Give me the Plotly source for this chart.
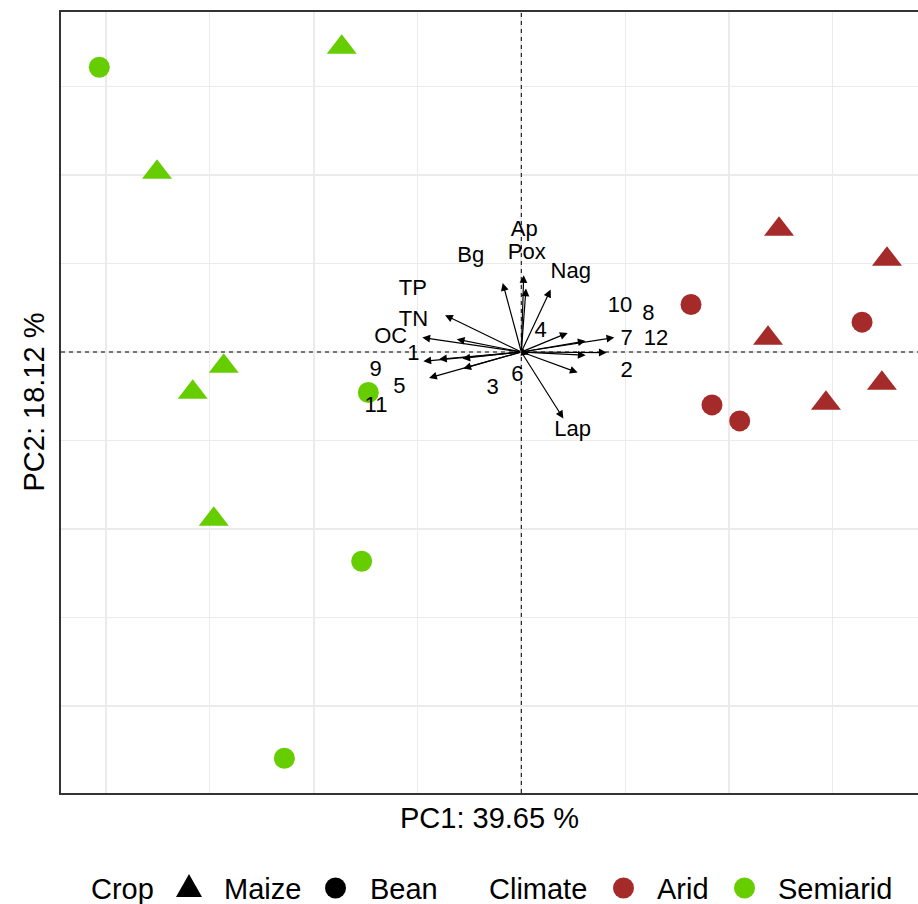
import plotly.graph_objects as go

# ---------------- data ----------------
pc1 = [-4.066, -1.730, -3.510, -2.867, -3.166, -1.474, -2.963, -1.538, -2.283,
       2.483, 3.523, 1.635, 3.283, 2.377, 3.474, 2.935, 1.837, 2.104]
pc2 = [3.218, 3.444, 2.032, -0.160, -0.454, -0.458, -1.889, -2.364, -4.590,
       1.388, 1.049, 0.537, 0.337, 0.156, -0.353, -0.579, -0.598, -0.779]
crop = ['Bean', 'Maize', 'Maize', 'Maize', 'Maize', 'Bean', 'Maize', 'Bean', 'Bean',
        'Maize', 'Maize', 'Bean', 'Bean', 'Maize', 'Maize', 'Maize', 'Bean', 'Bean']
climate = ['Semiarid'] * 9 + ['Arid'] * 9

var_names = ['Ap', 'Pox', 'Bg', 'Nag', 'TP', 'TN', 'OC', '1', '9', '5', '11', '3', '6',
             '4', '10', '8', '7', '12', '2', 'Lap']
load_x = [0.023, 0.045, -0.179, 0.283, -0.735, -0.622, -0.954, -0.944, -0.793, -0.889,
          -0.568, -0.559, 0.074, 0.447, 0.620, 0.620, 0.896, 0.823, 0.543, 0.405]
load_y = [0.868, 0.718, 0.781, 0.706, 0.416, 0.145, 0.164, -0.104, -0.081, -0.293,
          -0.073, -0.186, -0.025, 0.216, 0.125, -0.036, 0.164, -0.006, -0.232, -0.751]
label_x = [0.029, 0.052, -0.487, 0.476, -1.046, -1.040, -1.258, -1.040, -1.403, -1.175,
           -1.400, -0.276, -0.038, 0.187, 0.950, 1.223, 1.015, 1.298, 1.015, 0.495]
label_y = [1.376, 1.112, 1.082, 0.894, 0.706, 0.351, 0.164, -0.029, -0.206, -0.406,
           -0.620, -0.412, -0.262, 0.228, 0.517, 0.427, 0.145, 0.145, -0.225, -0.885]

crop_levels = ['Maize', 'Bean']
climate_levels = ['Arid', 'Semiarid']
x_title = 'PC1: 39.65 %'
y_title = 'PC2: 18.12 %'
x_range = [-4.435, 3.822]
y_range = [-4.983, 3.842]

# ---------------- styles ----------------
FONT = 'Liberation Sans, Arial, sans-serif'
colors = {'Arid': '#A52A2A', 'Semiarid': '#66CD00'}
symbols = {'Maize': 'triangle-up', 'Bean': 'circle'}
sizes = {'Maize': 26, 'Bean': 21}

W, H = 918, 904
ML, MR, MT, MB = 61, 0, 12, 111
PW, PH = W - ML - MR, H - MT - MB


def px2paper_x(px):
    return (px - ML) / PW


def py2paper_y(py):
    return (H - MB - py) / PH


fig = go.Figure()

# dashed reference lines through the origin
dash_line = dict(color='black', width=1, dash='4px,4px')
fig.add_trace(go.Scatter(x=[0, 0], y=y_range, mode='lines', line=dash_line,
                         showlegend=False, hoverinfo='skip'))
fig.add_trace(go.Scatter(x=x_range, y=[0, 0], mode='lines', line=dash_line,
                         showlegend=False, hoverinfo='skip'))

for cl in climate_levels:
    for cr in crop_levels:
        xs = [x for x, c, k in zip(pc1, crop, climate) if c == cr and k == cl]
        ys = [y for y, c, k in zip(pc2, crop, climate) if c == cr and k == cl]
        fig.add_trace(go.Scatter(
            x=xs, y=ys, mode='markers', showlegend=False,
            marker=dict(symbol=symbols[cr], size=sizes[cr], color=colors[cl],
                        line=dict(width=0)),
            hoverinfo='skip'))

# arrows (loadings)
for vx, vy in zip(load_x, load_y):
    fig.add_annotation(x=vx, y=vy, ax=0, ay=0, xref='x', yref='y', axref='x', ayref='y',
                       text='', showarrow=True, arrowhead=2, arrowsize=1.3,
                       arrowwidth=1.2, arrowcolor='black', standoff=0, startstandoff=0)

# variable labels
fig.add_trace(go.Scatter(
    x=label_x, y=label_y, mode='text', text=var_names, showlegend=False,
    textposition='middle center', textfont=dict(family=FONT, size=22, color='black'),
    hoverinfo='skip'))

# axis titles
fig.add_annotation(text=x_title, xref='paper', yref='paper', x=0.5, y=0,
                   xanchor='center', yanchor='middle', yshift=-25, showarrow=False,
                   font=dict(family=FONT, size=29, color='black'))
fig.add_annotation(text=y_title, xref='paper', yref='paper', x=0, y=0.5,
                   xanchor='center', yanchor='middle', xshift=-28, textangle=-90,
                   showarrow=False, font=dict(family=FONT, size=29, color='black'))

# legend (manual)
leg_y = 889
leg_texts = [('Crop', 89), ('Maize', 222), ('Bean', 368),
             ('Climate', 487), ('Arid', 655), ('Semiarid', 776)]
for t, px in leg_texts:
    fig.add_annotation(text=t, xref='paper', yref='paper', x=px2paper_x(px),
                       y=py2paper_y(leg_y), xanchor='left', yanchor='middle',
                       showarrow=False, font=dict(family=FONT, size=29, color='black'))

# triangle key
tx, tw, ttop, tbot = 189, 26, 874, 897
path = 'M {},{} L {},{} L {},{} Z'.format(
    px2paper_x(tx - tw / 2), py2paper_y(tbot), px2paper_x(tx + tw / 2), py2paper_y(tbot),
    px2paper_x(tx), py2paper_y(ttop))
fig.add_shape(type='path', xref='paper', yref='paper', path=path,
              fillcolor='black', line=dict(width=0))
# circle keys
for cx, col in [(335.5, 'black'), (623.5, colors['Arid']), (744.5, colors['Semiarid'])]:
    r = 10.5
    fig.add_shape(type='circle', xref='paper', yref='paper',
                  x0=px2paper_x(cx - r), x1=px2paper_x(cx + r),
                  y0=py2paper_y(leg_y + r - 1), y1=py2paper_y(leg_y - r - 1),
                  fillcolor=col, line=dict(width=0))

grid_major = dict(showgrid=True, gridcolor='#EBEBEB', gridwidth=1.7)
fig.update_layout(
    width=W, height=H, margin=dict(l=ML, r=MR, t=MT, b=MB, pad=0),
    paper_bgcolor='white', plot_bgcolor='white', showlegend=False,
    font=dict(family=FONT, color='black'),
    xaxis=dict(range=x_range, dtick=2, tick0=0, **grid_major,
               minor=dict(dtick=1, tick0=0, showgrid=True, gridcolor='#EBEBEB', gridwidth=1),
               showticklabels=False, ticks='', zeroline=False,
               showline=True, linecolor='#333333', linewidth=1.5, mirror=True),
    yaxis=dict(range=y_range, dtick=2, tick0=0, **grid_major,
               minor=dict(dtick=1, tick0=0, showgrid=True, gridcolor='#EBEBEB', gridwidth=1),
               showticklabels=False, ticks='', zeroline=False,
               showline=True, linecolor='#333333', linewidth=1.5, mirror=False),
)

fig.write_html('out.html')
